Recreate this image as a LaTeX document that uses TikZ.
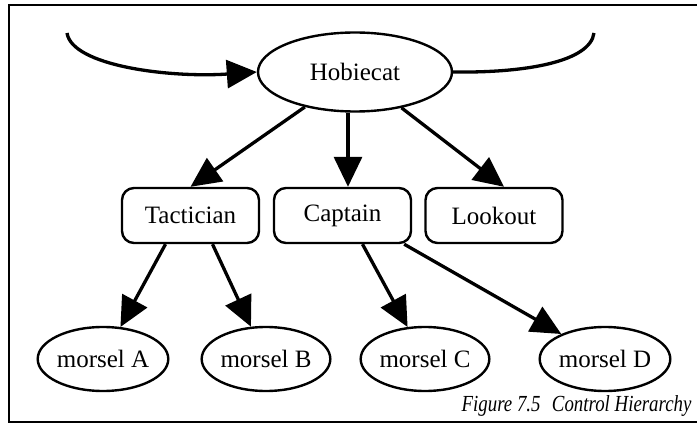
\documentclass[tikz,border=0pt]{standalone}
\usepackage{fontspec}
\setmainfont{Liberation Serif}
\usetikzlibrary{arrows.meta,shapes.geometric}

\tikzset{
    agent/.style={draw, ellipse, line width=2.4pt, inner sep=0pt,
        minimum width=124pt, minimum height=64pt},
    role/.style={draw, rounded corners=12pt, line width=2.4pt, inner sep=0pt,
        minimum width=137pt, minimum height=55pt},
    link/.style={line width=3.3pt, -{Triangle[length=30pt,width=28pt]}},
}

\begin{document}
\begin{tikzpicture}[x=1pt, y=-1pt, font=\fontsize{25}{30}\selectfont]
    \useasboundingbox (0,0) rectangle (697,425);
    % open frame (no right side)
    \draw[line width=2pt] (697,5) -- (9,5) -- (9,422) -- (697,422);

    \node[agent, minimum width=194pt, minimum height=79pt] (hob) at (355,72) {Hobiecat};

    \node[role] (tac) at (190.5,215.5) {Tactician};
    \node[role] (cap) at (342.5,215.5) {Captain};
    \node[role] (look) at (494,215.5) {Lookout};

    \node[agent] (ma) at (103,359) {morsel A};
    \node[agent] (mb) at (266,359) {morsel B};
    \node[agent] (mc) at (425,359) {morsel C};
    \node[agent] (md) at (605,359) {morsel D};

    % the loop round the boat
    \coordinate (loopin) at (67,33);
    \coordinate (loopout) at (594,33);
    \coordinate (capx) at (348,0);
    \draw[link] (loopin) .. controls (72,66) and (170,78) .. (hob.west);
    \draw[line width=3.3pt] (hob.east) .. controls (525,73) and (590,62) .. (loopout);

    \draw[link] (hob) -- (tac.north);
    \draw[link] (hob.south -| capx) -- (cap.north -| capx);
    \draw[link] (hob) -- ([xshift=10pt]look.north);

    \draw[link] ([xshift=-25pt]tac.south) -- (ma);
    \draw[link] ([xshift=22pt]tac.south) -- (mb);
    \draw[link] ([xshift=20pt]cap.south) -- (mc);
    \draw[link] ([xshift=-8pt]cap.south east) -- (md);

    \node[anchor=east, font=\fontsize{23}{26}\selectfont\itshape] (caption) at (695,406)
        {\scalebox{0.82}[1]{Figure 7.5\hspace{0.6em}Control Hierarchy}};
\end{tikzpicture}
\end{document}
